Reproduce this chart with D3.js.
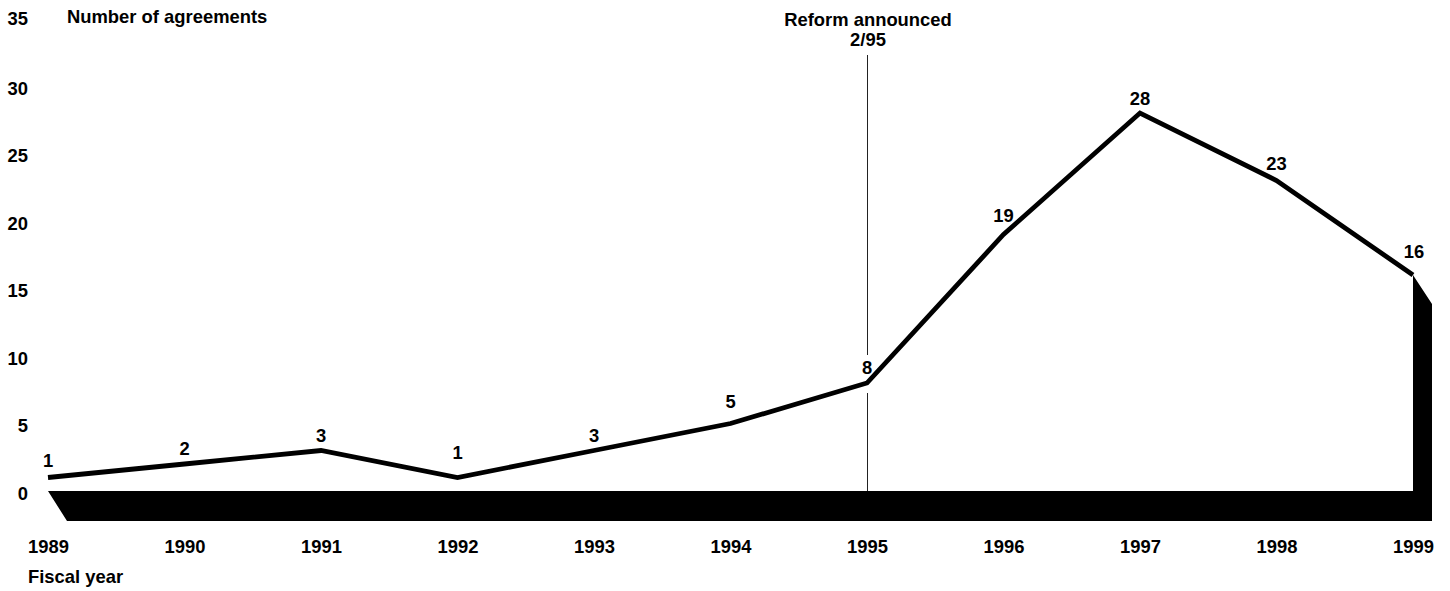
<!DOCTYPE html>
<html>
<head>
<meta charset="utf-8">
<script src="https://cdn.jsdelivr.net/npm/d3@7"></script>
<style>
  html, body { margin: 0; padding: 0; background: #fff; }
  svg { display: block; }
  text { font-family: "Liberation Sans", Arial, sans-serif; font-weight: bold; fill: #000; }
</style>
</head>
<body>
<svg id="chart" width="1450" height="591"></svg>
<script>
// ---- data ----
const years = [1989, 1990, 1991, 1992, 1993, 1994, 1995, 1996, 1997, 1998, 1999];
const agreements = [1, 2, 3, 1, 3, 5, 8, 19, 28, 23, 16];
const yTicks = [0, 5, 10, 15, 20, 25, 30, 35];
const labelLift = [10.5, 9, 8.5, 18.5, 8.5, 16, 9.5, 13, 8, 11, 17];
const reformYear = 1995;
const reformText = ["Reform announced", "2/95"];
const yTitle = "Number of agreements";
const xTitle = "Fiscal year";

// ---- scales ----
const svg = d3.select("#chart");
const x = d3.scaleLinear().domain([1989, 1999]).range([48, 1413]);
const y = d3.scaleLinear().domain([0, 35]).range([491, 18.5]);
const depthX = 19, depthY = 30;
const fs = 18.4;

// ---- 3D base floor + right wall ----
const last = years.length - 1;
const basePts = [
  [x(years[0]), y(0)],
  [x(years[last]), y(0)],
  [x(years[last]), y(agreements[last])],
  [x(years[last]) + depthX, y(agreements[last]) + depthY - 1],
  [x(years[last]) + depthX, y(0) + depthY],
  [x(years[0]) + depthX, y(0) + depthY]
];
svg.append("path")
  .attr("d", d3.line()(basePts) + "Z")
  .attr("fill", "#000");

// ---- reference line (broken around the 1995 label) ----
const rx = x(reformYear);
const ri = years.indexOf(reformYear);
const refG = svg.append("g").attr("stroke", "#222").attr("stroke-width", 1);
refG.append("line").attr("x1", rx + 0.5).attr("x2", rx + 0.5).attr("y1", 55).attr("y2", y(agreements[ri]) - 28);
refG.append("line").attr("x1", rx + 0.5).attr("x2", rx + 0.5).attr("y1", y(agreements[ri]) + 10).attr("y2", y(0));

svg.append("text")
  .attr("x", rx + 1).attr("y", 26)
  .attr("text-anchor", "middle").attr("font-size", fs)
  .selectAll("tspan").data(reformText).join("tspan")
  .attr("x", rx + 1).attr("dy", (d, i) => i === 0 ? 0 : 19.5)
  .text(d => d);

// ---- data line ----
svg.append("path")
  .datum(years.map((yr, i) => [x(yr), y(agreements[i])]))
  .attr("d", d3.line())
  .attr("fill", "none")
  .attr("stroke", "#000")
  .attr("stroke-width", 4.8)
  .attr("stroke-linejoin", "miter");

// ---- value labels ----
svg.append("g").selectAll("text").data(agreements).join("text")
  .attr("x", (d, i) => x(years[i]) + (i === last ? 1 : 0))
  .attr("y", (d, i) => y(d) - labelLift[i])
  .attr("text-anchor", "middle").attr("font-size", fs)
  .text(d => d);

// ---- y axis ----
const yAxis = d3.axisLeft(y).tickValues(yTicks).tickSize(0).tickPadding(0);
const yg = svg.append("g").attr("transform", "translate(28,0)").call(yAxis);
yg.select(".domain").remove();
yg.selectAll("text")
  .attr("font-size", fs).attr("font-family", null)
  .attr("dy", "0.36em")
  .attr("y", d => (d === 35 ? -1 : 1.5));

svg.append("text").attr("x", 67).attr("y", 23).attr("font-size", fs).text(yTitle);

// ---- x axis ----
const xAxis = d3.axisBottom(x).tickValues(years).tickFormat(d3.format("d")).tickSize(0).tickPadding(0);
const xg = svg.append("g").attr("transform", "translate(0,540)").call(xAxis);
xg.select(".domain").remove();
xg.selectAll("text").attr("font-size", fs).attr("font-family", null).attr("dy", null).attr("y", 12.5);

svg.append("text").attr("x", 28).attr("y", 583).attr("font-size", fs).text(xTitle);

svg.selectAll("text").style("font-family", "'Liberation Sans', Arial, sans-serif").style("font-weight", "bold");
</script>
</body>
</html>
